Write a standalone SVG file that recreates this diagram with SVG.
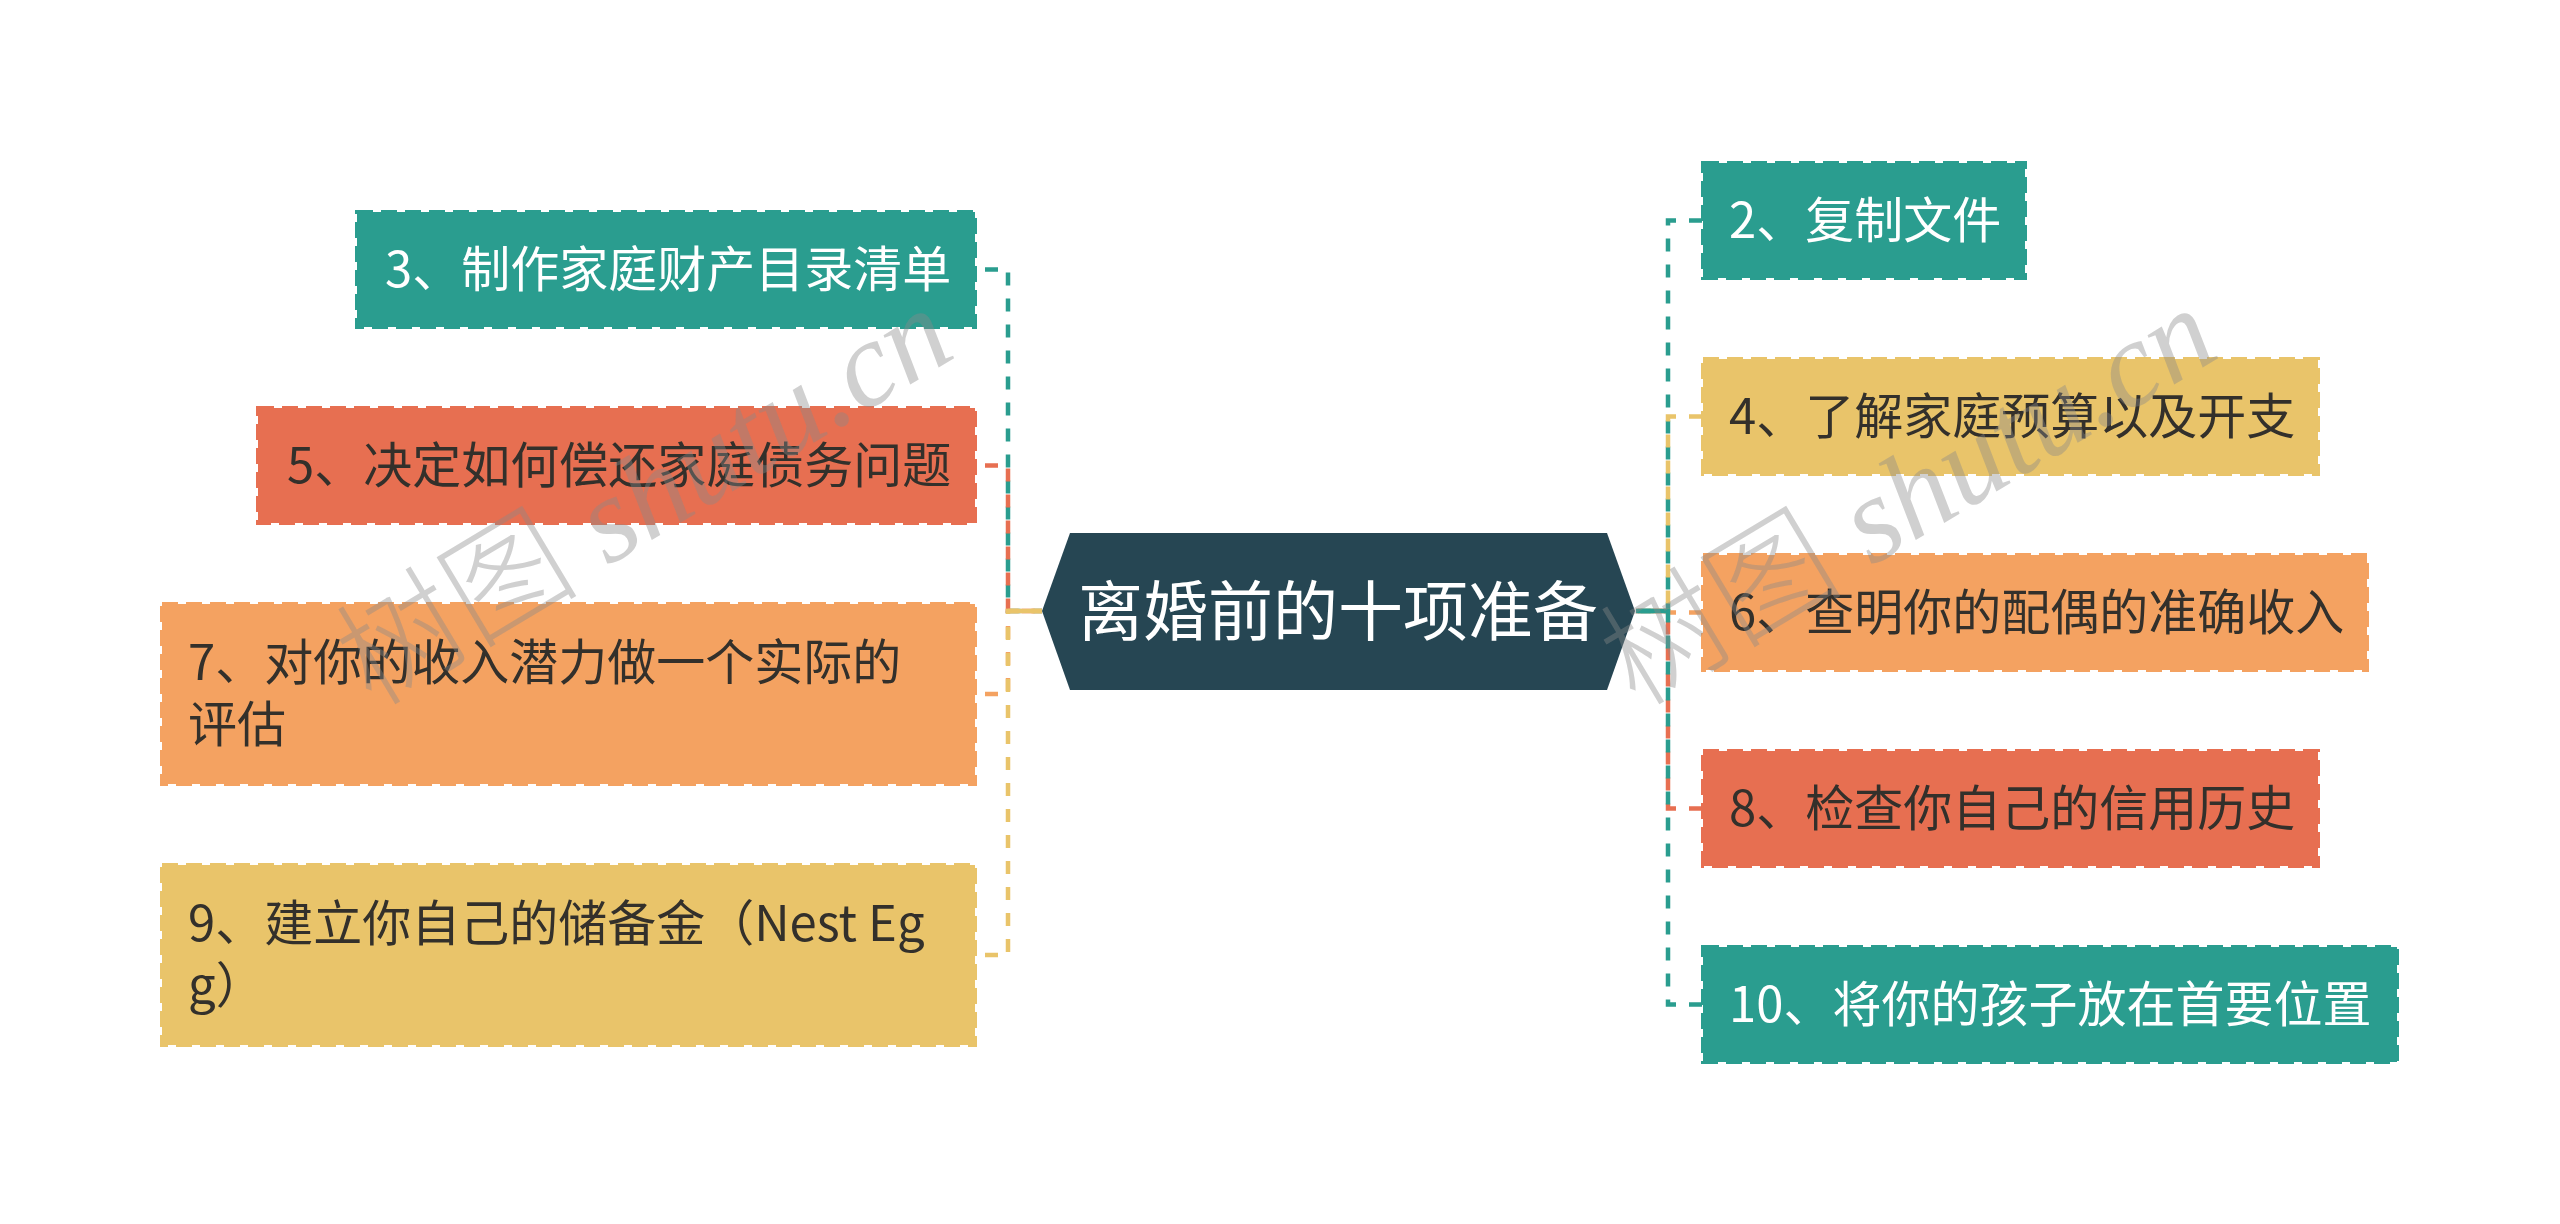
<svg xmlns="http://www.w3.org/2000/svg" width="2560" height="1224" viewBox="0 0 2560 1224">
<style>
.box{stroke-width:4;stroke-dasharray:16 8}
.teal{fill:#2a9d8f;stroke:#2a9d8f}
.yel{fill:#e9c46a;stroke:#e9c46a}
.ora{fill:#f4a261;stroke:#f4a261}
.red{fill:#e76f51;stroke:#e76f51}
.t{font-family:"Noto Sans CJK SC","Noto Sans",sans-serif;font-size:49px}
.lt{fill:#ffffff}
.dk{fill:#33302b}
.c{fill:none;stroke-width:4.5;stroke-dasharray:13 13}
.wm{font-size:122px;fill:#8a8a8a;fill-opacity:0.4}
</style>
<rect width="2560" height="1224" fill="#ffffff"/>
<g id="connectors">
<path class="c" stroke="#2a9d8f" d="M985 269.5H1008V611H1042"/>
<path class="c" stroke="#e76f51" d="M985 465.5H1008V611H1042"/>
<path class="c" stroke="#f4a261" d="M985 694H1008V611H1042"/>
<path class="c" stroke="#e9c46a" d="M985 955H1008V611H1042"/>
<path fill="none" stroke="#e9c46a" stroke-width="4.5" d="M1008 611H1042"/>
<path class="c" stroke="#2a9d8f" d="M1702 220.5H1668V611H1636"/>
<path class="c" stroke="#e9c46a" d="M1702 416.5H1668V611H1636"/>
<path class="c" stroke="#f4a261" d="M1702 612.5H1668V611H1636"/>
<path class="c" stroke="#e76f51" d="M1702 808.5H1668V611H1636"/>
<path class="c" stroke="#2a9d8f" d="M1702 1004.5H1668V611H1636"/>
<path fill="none" stroke="#2a9d8f" stroke-width="4.5" d="M1636 611H1668"/>
</g>
<g id="center">
<polygon points="1042,611 1070,533 1607,533 1635,611 1607,690 1070,690" fill="#264653"/>
<text x="1338" y="635" text-anchor="middle" class="t lt" style="font-size:65px">离婚前的十项准备</text>
</g>
<g id="n3"><rect class="box teal" x="357" y="212" width="618" height="115"/><text class="t lt" x="385" y="287">3、制作家庭财产目录清单</text></g>
<g id="n5"><rect class="box red" x="258" y="408" width="717" height="115"/><text class="t dk" x="287" y="483">5、决定如何偿还家庭债务问题</text></g>
<g id="n7"><rect class="box ora" x="162" y="604" width="813" height="180"/><text class="t dk" x="188" y="680">7、对你的收入潜力做一个实际的</text><text class="t dk" x="188" y="742">评估</text></g>
<g id="n9"><rect class="box yel" x="162" y="865" width="813" height="180"/><text class="t dk" x="188" y="941">9、建立你自己的储备金（Nest Eg</text><text class="t dk" x="188" y="1003">g）</text></g>
<g id="n2"><rect class="box teal" x="1703" y="163" width="322" height="115"/><text class="t lt" x="1729" y="238">2、复制文件</text></g>
<g id="n4"><rect class="box yel" x="1703" y="359" width="615" height="115"/><text class="t dk" x="1729" y="434">4、了解家庭预算以及开支</text></g>
<g id="n6"><rect class="box ora" x="1703" y="555" width="664" height="115"/><text class="t dk" x="1729" y="630">6、查明你的配偶的准确收入</text></g>
<g id="n8"><rect class="box red" x="1703" y="751" width="615" height="115"/><text class="t dk" x="1729" y="826">8、检查你自己的信用历史</text></g>
<g id="n10"><rect class="box teal" x="1703" y="947" width="694" height="115"/><text class="t lt" x="1729" y="1022">10、将你的孩子放在首要位置</text></g>
<g id="watermarks">
<text class="wm" transform="translate(372,708) rotate(-31)"><tspan style="font-family:'Noto Sans CJK SC',sans-serif;font-weight:300">树图</tspan><tspan style="font-family:'Liberation Serif',serif;font-style:italic"> shutu.cn</tspan></text>
<text class="wm" transform="translate(1636,708) rotate(-31)"><tspan style="font-family:'Noto Sans CJK SC',sans-serif;font-weight:300">树图</tspan><tspan style="font-family:'Liberation Serif',serif;font-style:italic"> shutu.cn</tspan></text>
</g>
</svg>
